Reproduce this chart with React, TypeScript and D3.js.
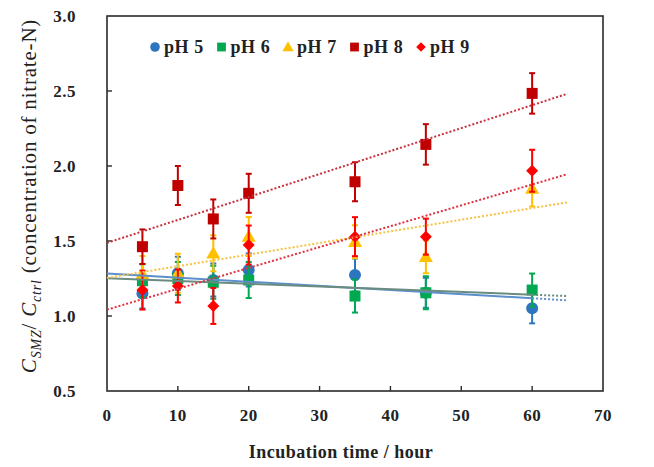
import React from "react";
import * as d3 from "d3";

const times = [5, 10, 15, 20, 35, 45, 60];
const ph5 = [1.15, 1.285, 1.24, 1.307, 1.273, 1.155, 1.051];
const ph5Err = [0.1, 0.11, 0.11, 0.11, 0.11, 0.1, 0.1];
const ph6 = [1.235, 1.25, 1.225, 1.24, 1.133, 1.155, 1.173];
const ph6Err = [0.11, 0.11, 0.11, 0.12, 0.11, 0.11, 0.11];
const ph7 = [1.28, 1.285, 1.418, 1.53, 1.495, 1.395, 1.85];
const ph7Err = [0.12, 0.13, 0.12, 0.13, 0.11, 0.11, 0.12];
const ph8 = [1.462, 1.87, 1.647, 1.818, 1.895, 2.144, 2.484];
const ph8Err = [0.115, 0.13, 0.13, 0.13, 0.13, 0.135, 0.135];
const ph9 = [1.173, 1.2, 1.067, 1.473, 1.529, 1.529, 1.968];
const ph9Err = [0.13, 0.11, 0.12, 0.13, 0.13, 0.12, 0.14];

const seriesNames = ["pH 5", "pH 6", "pH 7", "pH 8", "pH 9"];
const xTicks = [0, 10, 20, 30, 40, 50, 60, 70];
const yTicks = [0.5, 1.0, 1.5, 2.0, 2.5, 3.0];

type Shape = "circle" | "square" | "triangle" | "diamond";
const seriesDefs: { name: string; vals: number[]; err: number[]; color: string; shape: Shape; lineColor: string; solid: boolean }[] = [
  { name: seriesNames[0], vals: ph5, err: ph5Err, color: "#2E75C0", shape: "circle", lineColor: "#5B8FCC", solid: true },
  { name: seriesNames[1], vals: ph6, err: ph6Err, color: "#00A850", shape: "square", lineColor: "#6A8C80", solid: true },
  { name: seriesNames[2], vals: ph7, err: ph7Err, color: "#FFC000", shape: "triangle", lineColor: "#F5C242", solid: false },
  { name: seriesNames[3], vals: ph8, err: ph8Err, color: "#C00000", shape: "square", lineColor: "#C8303C", solid: false },
  { name: seriesNames[4], vals: ph9, err: ph9Err, color: "#FF0000", shape: "diamond", lineColor: "#E03040", solid: false },
];

const W = 654, H = 467;
const left = 107, right = 603, top = 16, bottom = 391;

function fit(xs: number[], ys: number[]) {
  const mx = d3.mean(xs)!;
  const my = d3.mean(ys)!;
  let sxy = 0, sxx = 0;
  xs.forEach((x, i) => { sxy += (x - mx) * (ys[i] - my); sxx += (x - mx) * (x - mx); });
  const b = sxy / sxx;
  return { a: my - b * mx, b };
}

function Marker({ shape, cx, cy, color, s = 1 }: { shape: Shape; cx: number; cy: number; color: string; s?: number }) {
  if (shape === "circle") return <circle cx={cx} cy={cy} r={6 * s} fill={color} />;
  if (shape === "square") return <rect x={cx - 5.5 * s} y={cy - 5.5 * s} width={11 * s} height={11 * s} fill={color} />;
  if (shape === "triangle") {
    const r = 7 * s;
    return <path d={`M${cx},${cy - r} L${cx + r},${cy + r * 0.75} L${cx - r},${cy + r * 0.75} Z`} fill={color} />;
  }
  const r = 6 * s;
  return <path d={`M${cx},${cy - r} L${cx + r},${cy} L${cx},${cy + r} L${cx - r},${cy} Z`} fill={color} />;
}

export default function App() {
  const x = d3.scaleLinear().domain([0, 70]).range([left, right]);
  const y = d3.scaleLinear().domain([0.5, 3.0]).range([bottom, top]);
  const font = "'Liberation Serif', 'Times New Roman', serif";
  const legendX0 = 155;
  const legendStep = 66.5;

  return (
    <svg width={W} height={H} style={{ position: "absolute", left: 0, top: 0, background: "#fff" }} fontFamily={font}>
      <rect x={0} y={0} width={W} height={H} fill="#fff" />
      <rect x={left} y={top} width={right - left} height={bottom - top} fill="none" stroke="#2a2a2a" strokeWidth={1.6} />
      {xTicks.slice(1, -1).map((t) => (
        <line key={"xt" + t} x1={x(t)} x2={x(t)} y1={bottom} y2={bottom - 5} stroke="#2a2a2a" strokeWidth={1.4} />
      ))}
      {yTicks.slice(1, -1).map((t) => (
        <line key={"yt" + t} x1={left} x2={left + 5} y1={y(t)} y2={y(t)} stroke="#2a2a2a" strokeWidth={1.4} />
      ))}
      {xTicks.map((t) => (
        <text key={"xl" + t} x={x(t)} y={bottom + 30} textAnchor="middle" fontSize={17} fontWeight="bold" letterSpacing={0.5} fill="#222">{t}</text>
      ))}
      {yTicks.map((t) => (
        <text key={"yl" + t} x={76} y={y(t) + 6} textAnchor="end" fontSize={17} fontWeight="bold" letterSpacing={0.5} fill="#222">{t.toFixed(1)}</text>
      ))}
      {seriesDefs.map((s) => (
        <g key={s.name}>
          {times.map((t, i) => (
            <g key={t}>
              <line x1={x(t)} x2={x(t)} y1={y(s.vals[i] - s.err[i])} y2={y(s.vals[i] + s.err[i])} stroke={s.color} strokeWidth={2} />
              <line x1={x(t) - 3} x2={x(t) + 3} y1={y(s.vals[i] - s.err[i])} y2={y(s.vals[i] - s.err[i])} stroke={s.color} strokeWidth={2} />
              <line x1={x(t) - 3} x2={x(t) + 3} y1={y(s.vals[i] + s.err[i])} y2={y(s.vals[i] + s.err[i])} stroke={s.color} strokeWidth={2} />
              <Marker shape={s.shape} cx={x(t)} cy={y(s.vals[i])} color={s.color} />
            </g>
          ))}
        </g>
      ))}
      {seriesDefs.map((s) => {
        const f = fit(times, s.vals);
        const ln = (a: number, b: number) => d3.line<number>().x((v) => x(v)).y((v) => y(f.a + f.b * v))([a, b]) || "";
        return s.solid ? (
          <g key={"tl" + s.name}>
            <path d={ln(0, 60)} stroke={s.lineColor} strokeWidth={2} fill="none" />
            <path d={ln(60, 65)} stroke={s.lineColor} strokeWidth={2} strokeDasharray="2,2" fill="none" />
          </g>
        ) : (
          <path key={"tl" + s.name} d={ln(0, 65)} stroke={s.lineColor} strokeWidth={2} strokeDasharray="2,2" fill="none" />
        );
      })}
      {seriesDefs.map((s, i) => (
        <g key={"lg" + s.name}>
          <Marker shape={s.shape} cx={legendX0 + i * legendStep} cy={47} color={s.color} s={0.8} />
          <text x={legendX0 + i * legendStep + 9} y={53} fontSize={18} fontWeight="bold" letterSpacing={0.6} fill="#222">{s.name}</text>
        </g>
      ))}
      <text x={341} y={458} textAnchor="middle" fontSize={18} fontWeight="bold" letterSpacing={0.5} fill="#222">Incubation time / hour</text>
      <text transform={`translate(36, 196) rotate(-90)`} textAnchor="middle" fontSize={21} letterSpacing={0.8} fill="#222">
        <tspan fontStyle="italic">C</tspan>
        <tspan fontStyle="italic" fontSize={14} dy={5}>SMZ</tspan>
        <tspan dy={-5}>/ </tspan>
        <tspan fontStyle="italic">C</tspan>
        <tspan fontStyle="italic" fontSize={14} dy={5}>ctrl</tspan>
        <tspan dy={-5}> (concentration of nitrate-N)</tspan>
      </text>
    </svg>
  );
}
